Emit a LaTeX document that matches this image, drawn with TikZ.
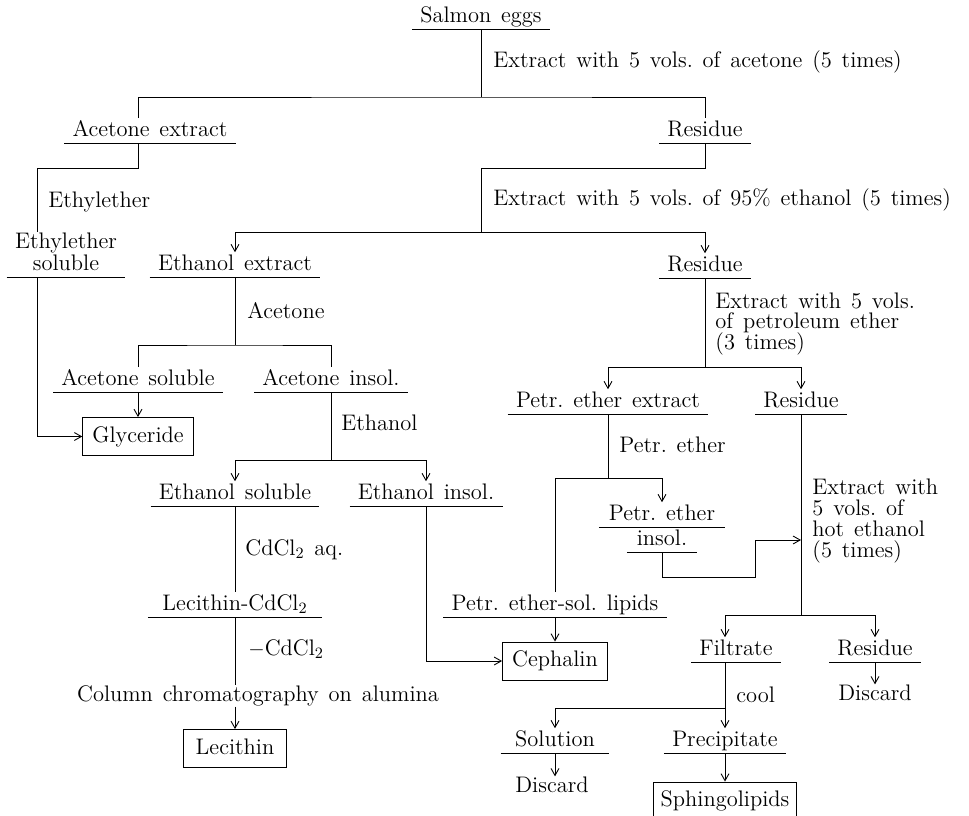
\documentclass[tikz,border=0pt]{standalone}
\usepackage{tikz}
\usetikzlibrary{positioning, arrows.meta}
\newcommand{\chartfont}{\fontsize{12.8pt}{11.8pt}\selectfont
    \spaceskip=5.6pt plus 1pt\xspaceskip=5.6pt plus 1pt\lineskiplimit=-10pt}
\tikzset{
    every node/.style={font=\chartfont},
    bare/.style={anchor=south, text height=9pt, text depth=2.6pt, inner xsep=4.5pt, inner ysep=1pt},
    stage/.style={bare, append after command={(\tikzlastnode.south west) edge (\tikzlastnode.south east)}},
    result/.style={draw, text height=9pt, text depth=2.6pt, inner xsep=5.5pt, inner ysep=5pt},
    item/.style={inner sep=0pt, text height=9pt, text depth=2.6pt},
    note/.style={item, anchor=west},
    notes/.style={anchor=west, inner sep=0pt, align=left},
    arrow/.style={-{Straight Barb[length=4pt, width=4.5pt]}},
}

\begin{document}
\begin{tikzpicture}[x=0.02cm, y=-0.02cm, line width=0.5pt]
\useasboundingbox (0,0) rectangle (969,815);
% salmon eggs and the acetone step
\node[stage] (salmon) at (481,29) {Salmon eggs};
\node[note] (acet) at (493,62) {Extract with 5 vols. of acetone (5 times)};
\node[stage] (acext) at (150,143) {Acetone extract};
\node[stage] (res1) at (705,143) {Residue};
% ethylether branch
\node[note] (ether) at (48,202) {Ethylether};
\node[bare] (ethsol) at (66,277) {soluble};
\node[item, inner xsep=4.5pt, above=-0.6pt of ethsol] (ethyl) {Ethylether};
% ethanol step
\node[note] (eth95) at (493,200) {Extract with 5 vols. of 95\% ethanol (5 times)};
\node[stage] (etext) at (235,277) {Ethanol extract};
\node[stage] (res2) at (705,278) {Residue};
\node[note] (acetone) at (247,313) {Acetone};
\node[stage] (acsol) at (138,392) {Acetone soluble};
\node[stage] (acins) at (331,392) {Acetone insol.};
\node[result] (glyc) at (138,436.5) {Glyceride};
\node[note] (ethanol) at (341,425) {Ethanol};
\node[stage] (etsol) at (235,506) {Ethanol soluble};
\node[stage] (etins) at (426,506) {Ethanol insol.};
% lecithin
\node[note] (cdcl) at (245,550) {CdCl\textsubscript{2} aq.};
\node[stage, inner xsep=8pt] (lecc) at (235,617) {Lecithin-CdCl\textsubscript{2}};
\node[note] (mcdcl) at (248,650) {$-$CdCl\textsubscript{2}};
\node[item] (column) at (258,696) {Column chromatography on alumina};
\node[result, inner xsep=7pt] (lecith) at (235,748.5) {Lecithin};
% petroleum ether step
\node[notes] (petrol) at (715,324) {Extract with 5 vols.\\of petroleum ether\\(3 times)};
\node[stage] (petext) at (608,414) {Petr. ether extract};
\node[stage] (pres) at (801,414) {Residue};
\node[note] (petr) at (619,447) {Petr. ether};
\node[stage, inner xsep=5.5pt] (petins1) at (662,527) {Petr. ether};
\node[stage, inner xsep=5.5pt] (petins2) at (662,552) {insol.};
\node[stage] (petsol) at (555,617) {Petr. ether-sol. lipids};
\node[result] (ceph) at (555,661) {Cephalin};
% hot ethanol step
\node[notes] (hot) at (812,521) {Extract with\\5 vols. of\\hot ethanol\\(5 times)};
\node[stage] (filt) at (736,662) {Filtrate};
\node[stage] (res4) at (875,662) {Residue};
\node[item] (disc1) at (875,695) {Discard};
\node[note] (cool) at (736,697) {cool};
\node[stage, inner xsep=8pt] (solu) at (555,753) {Solution};
\node[stage] (prec) at (725,753) {Precipitate};
\node[item] (disc2) at (552,787) {Discard};
\node[result, inner xsep=4pt] (sphing) at (725,801) {Sphingolipids};

% junctions
\coordinate (f1) at (481,97);
\coordinate (f1a) at (138,97);
\coordinate (f2a) at (37,168);
\coordinate (f3) at (481,168);
\coordinate (f3a) at (481,232);
\coordinate (f4) at (235,345);
\coordinate (f5) at (331,460);
\coordinate (f6) at (705,367);
\coordinate (f7) at (608,478);
\coordinate (f8) at (755,577);
\coordinate (h1) at (801,540);
\coordinate (f9) at (801,615);
\coordinate (f10) at (725,708);

\draw (salmon.south) -- (f1);
\draw (f1a |- acext.north) -- (f1a) -- (f1) -| (res1.north);
\draw (f1a |- acext.south) |- (f2a) -- (f2a |- ethyl.north);
\draw (ethyl.west |- ethsol.south) -- (ethyl.east |- ethsol.south);
\draw[arrow] (f2a |- ethsol.south) |- (glyc.west);
\draw (res1.south) |- (f3) -- (f3a);
\draw[arrow] (f3a) -| (etext.north);
\draw[arrow] (f3a) -| (res2.north);
\draw (etext.south) -- (f4);
\draw (acsol.north) |- (f4) -| (acins.north);
\draw[arrow] (acsol.south) -- (glyc.north);
\draw (acins.south) -- (f5);
\draw[arrow] (f5) -| (etsol.north);
\draw[arrow] (f5) -| (etins.north);
\draw (etsol.south) -- (lecc.north);
\draw (lecc.south) -- (lecc.south |- column.north);
\draw[arrow] (lecith.north |- column.south) -- (lecith.north);
\draw[arrow] (etins.south) |- (ceph.west);
\draw (res2.south) -- (f6);
\draw[arrow] (f6) -| (petext.north);
\draw[arrow] (f6) -| (pres.north);
\draw (petext.south) -- (f7);
\draw (petsol.north) |- (f7);
\draw[arrow] (f7) -| (petins1.north);
\draw[arrow] (petsol.south) -- (ceph.north);
\draw[arrow] (petins2.south) |- (f8) |- (h1);
\draw (pres.south) -- (f9);
\draw[arrow] (f9) -| (filt.north -| f10);
\draw[arrow] (f9) -| (res4.north);
\draw[arrow] (res4.south) -- (disc1.north);
\draw[arrow] (filt.south -| f10) -- (prec.north);
\draw[arrow] (f10) -| (solu.north);
\draw[arrow] (solu.south) -- (solu.south |- disc2.north);
\draw[arrow] (prec.south) -- (sphing.north);
\end{tikzpicture}
\end{document}
